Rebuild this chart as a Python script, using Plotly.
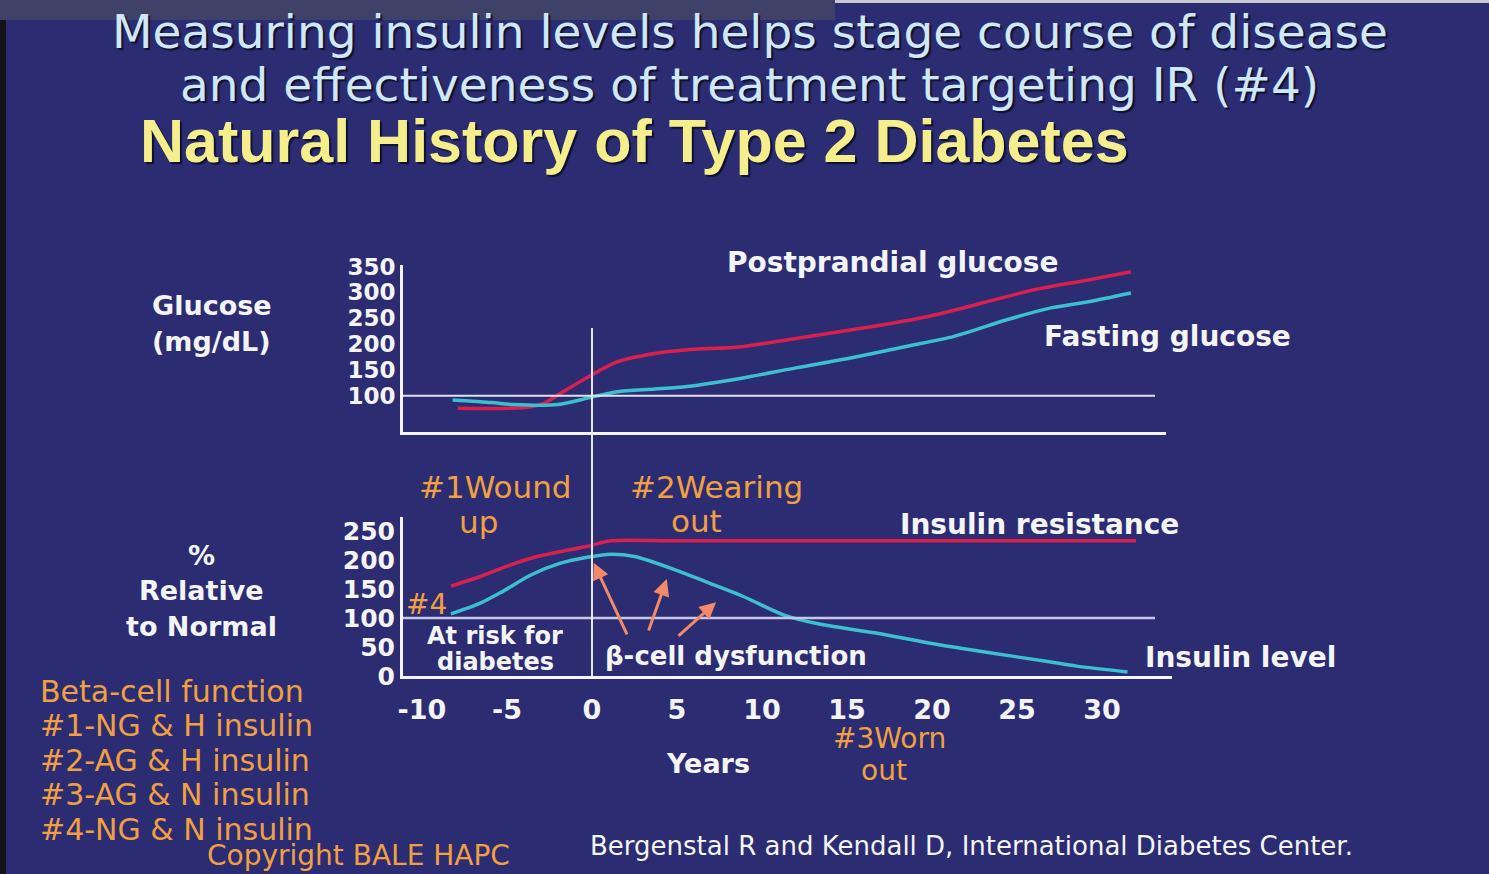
import plotly.graph_objects as go

# figure size in px (annotations are placed in pixels, converted to paper coords)
W, H = 1489, 874

# ---- data ----
# upper panel: glucose (mg/dL) vs years
pp_years = [-7.9, -4.9, -3.6, -2.8, -1.7, -0.2, 1.5, 3.7, 5.6, 8.8, 12.0, 16.5, 19.7, 22.9, 26.0, 29.2, 31.7]
pp_glucose = [76, 76, 79, 86, 108, 137, 166, 182, 189, 195, 211, 234, 253, 279, 305, 324, 340]

fg_years = [-8.2, -5.9, -4.6, -2.0, -0.2, 1.5, 3.7, 5.6, 8.8, 12.0, 15.2, 18.4, 21.3, 24.4, 27.0, 29.2, 31.7]
fg_glucose = [92, 87, 83, 83, 96, 108, 113, 118, 134, 154, 173, 195, 215, 247, 270, 282, 299]

# lower panel: % relative to normal
ir_years = [-8.3, -6.6, -5.3, -3.6, -1.9, -0.2, 1.1, 4.9, 11.6, 18.4, 25.1, 32.0]
ir_pct = [155, 171, 186, 203, 214, 224, 233, 233, 233, 233, 233, 233]

ins_years = [-8.3, -6.6, -5.3, -3.6, -1.9, -0.2, 1.1, 2.5, 4.9, 6.9, 8.9, 11.3, 13.3, 16.7, 20.0, 23.4, 26.8, 28.5, 31.5]
ins_pct = [107, 125, 145, 174, 194, 205, 210, 206, 183, 160, 137, 105, 90, 74, 56, 40, 25, 17, 7]

year_ticks = [-10, -5, 0, 5, 10, 15, 20, 25, 30]
year_labels = ["-10", "-5", "0", "5", "10", "15", "20", "25", "30"]
glucose_ticks = [100, 150, 200, 250, 300, 350]
pct_ticks = [0, 50, 100, 150, 200, 250]

legend_lines = ["Beta-cell function", "#1-NG & H insulin", "#2-AG & H insulin",
                "#3-AG & N insulin", "#4-NG & N insulin"]

# arrows pointing at the beta-cell curve: (tail year, tail %, head year, head %)
arrows = [(2.1, 69, 0.1, 195), (3.3, 76, 4.4, 167), (5.0, 67, 7.3, 127)]

# ---- styling ----
BG = "#2b2c72"
WHITE = "#f4f4f4"
ORANGE = "#f0a043"
RED = "#d8214f"
CYAN = "#3cc0cf"
SALMON = "#f28a6a"
FONT = "DejaVu Sans"

X0_PX, SLOPE = 592, 17.0   # year 0 pixel and px per year


def yr(px):
    return (px - X0_PX) / SLOPE


def pxx(x):
    return x / W


def pxy(y):
    return 1 - y / H


fig = go.Figure()

line_kw = dict(mode="lines", hoverinfo="skip")
fig.add_trace(go.Scatter(x=pp_years, y=pp_glucose, xaxis="x2", yaxis="y2",
                         line=dict(color=RED, width=3.5, shape="spline", smoothing=0.8), **line_kw))
fig.add_trace(go.Scatter(x=fg_years, y=fg_glucose, xaxis="x2", yaxis="y2",
                         line=dict(color=CYAN, width=3.5, shape="spline", smoothing=0.8), **line_kw))
fig.add_trace(go.Scatter(x=ir_years, y=ir_pct, xaxis="x", yaxis="y",
                         line=dict(color=RED, width=3.5, shape="spline", smoothing=0.8), **line_kw))
fig.add_trace(go.Scatter(x=ins_years, y=ins_pct, xaxis="x", yaxis="y",
                         line=dict(color=CYAN, width=3.5, shape="spline", smoothing=0.8), **line_kw))


def tickfont(size):
    return dict(family=FONT, size=size, color=WHITE, weight="bold")


axis_common = dict(showgrid=False, zeroline=False, showline=True, linecolor=WHITE,
                   linewidth=3, ticks="", automargin=False)

fig.update_layout(
    width=W, height=H, autosize=False,
    margin=dict(l=0, r=0, t=0, b=0, pad=0),
    paper_bgcolor=BG, plot_bgcolor=BG,
    showlegend=False,
    xaxis=dict(domain=[pxx(403), pxx(1172)], range=[yr(403), yr(1172)], anchor="y",
               tickvals=year_ticks, ticktext=year_labels, ticklabelstandoff=8,
               tickfont=tickfont(27), **axis_common),
    yaxis=dict(domain=[pxy(676), pxy(517)], range=[0, 274], anchor="x",
               tickvals=pct_ticks, ticklabelstandoff=0, tickfont=tickfont(25), **axis_common),
    xaxis2=dict(domain=[pxx(403), pxx(1166)], range=[yr(403), yr(1166)], anchor="y2",
                showticklabels=False, **axis_common),
    yaxis2=dict(domain=[pxy(432), pxy(265)], range=[30, 353], anchor="x2",
                tickvals=glucose_ticks, ticklabelstandoff=0, tickfont=tickfont(23), **axis_common),
)

# reference lines: normal (100) in both panels, diagnosis at year 0
fig.add_shape(type="line", xref="x2", yref="y2", x0=yr(403), x1=yr(1155), y0=100, y1=100,
              line=dict(color="#e0e0f0", width=2))
fig.add_shape(type="line", xref="x", yref="y", x0=yr(403), x1=yr(1155), y0=100, y1=100,
              line=dict(color="#c8c8e6", width=2.5))
fig.add_shape(type="line", xref="x", yref="paper", x0=0, x1=0, y0=pxy(676), y1=pxy(328),
              line=dict(color="#e8e8f4", width=2))

# slide frame bits: dark left edge and greyish strip at top
fig.add_shape(type="rect", xref="paper", yref="paper", x0=0, x1=pxx(6), y0=0, y1=1,
              fillcolor="#141418", line_width=0, layer="below")
fig.add_shape(type="rect", xref="paper", yref="paper", x0=0, x1=pxx(835), y0=pxy(20), y1=1,
              fillcolor="#3e4168", line_width=0, layer="below")
fig.add_shape(type="rect", xref="paper", yref="paper", x0=pxx(835), x1=1, y0=pxy(3), y1=1,
              fillcolor="#c8c8d0", line_width=0, layer="below")

for tx, ty, hx, hy in arrows:
    fig.add_annotation(x=hx, y=hy, ax=tx, ay=ty, xref="x", yref="y", axref="x", ayref="y",
                       text="", showarrow=True, arrowhead=2, arrowsize=1.1, arrowwidth=3,
                       arrowcolor=SALMON)


def note(text, x, y, color=WHITE, size=27, bold=True, xanchor="center", family=FONT, shadow=None):
    font = dict(family=family, size=size, color=color, weight="bold" if bold else "normal")
    if shadow:
        font["shadow"] = shadow
    fig.add_annotation(text=text, x=pxx(x), y=pxy(y), xref="paper", yref="paper",
                       xanchor=xanchor, yanchor="middle", showarrow=False, font=font)


# titles
TITLE_C = "#cfe7f6"
note("Measuring insulin levels helps stage course of disease", 750, 31, TITLE_C, 47, False,
     shadow="2px 2px 1px #101030")
note("and effectiveness of treatment targeting IR (#4)", 749, 84, TITLE_C, 47, False,
     shadow="2px 2px 1px #101030")
note("Natural History of Type 2 Diabetes", 138, 141, "#f4ef8c", 61, True, "left",
     family="Liberation Sans", shadow="2px 2px 1px #101030")

# axis titles
note("Glucose", 212, 305)
note("(mg/dL)", 212, 342)
note("%", 202, 555)
note("Relative", 202, 590)
note("to Normal", 202, 626)
note("Years", 708, 763)

# series labels
note("Postprandial glucose", 725, 262, xanchor="left", size=28)
note("Fasting glucose", 1042, 337, xanchor="left", size=28)
note("Insulin resistance", 898, 524, xanchor="left", size=28)
note("Insulin level", 1143, 657, xanchor="left", size=28)
note("At risk for", 495, 636, size=24)
note("diabetes", 495, 662, size=24)
note("β-cell dysfunction", 603, 656, size=26, xanchor="left")

# stage labels
note("#1Wound", 495, 487, ORANGE, 31, False)
note("up", 478, 522, ORANGE, 31, False)
note("#2Wearing", 716, 487, ORANGE, 31, False)
note("out", 696, 521, ORANGE, 31, False)
note("#3Worn", 890, 738, ORANGE, 28, False)
note("out", 884, 770, ORANGE, 28, False)
note("#4", 404, 604, ORANGE, 28, False, "left")

# legend at lower left
for i, line in enumerate(legend_lines):
    note(line, 38, 691 + 34.5 * i, ORANGE, 30, False, "left")
note("Copyright BALE HAPC", 205, 855, ORANGE, 28, False, "left")
note("Bergenstal R and Kendall D, International Diabetes Center.", 588, 846, WHITE, 26, False, "left")

# drop the default body margin so the 1489x874 figure fills the window exactly
fig.write_html("out.html", config={"displayModeBar": False},
               post_script="document.body.style.margin='0';document.body.style.overflow='hidden';")
